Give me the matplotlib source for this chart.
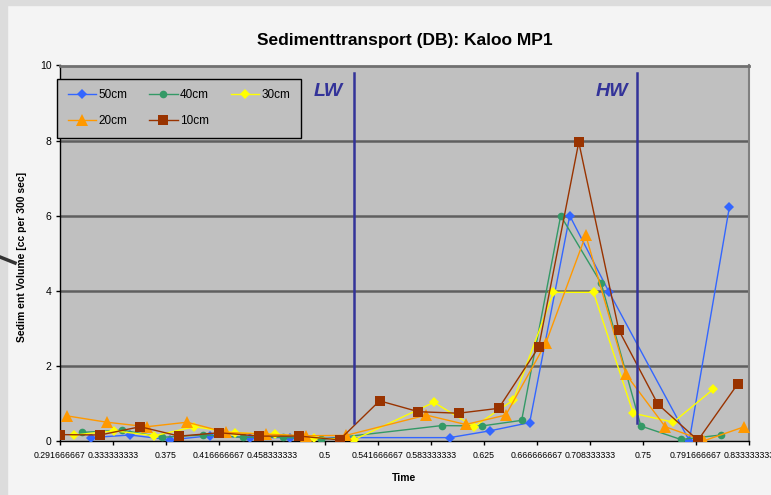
import matplotlib
matplotlib.use("Agg")
import matplotlib.pyplot as plt
from matplotlib.lines import Line2D
from matplotlib.patches import Rectangle

plt.rcParams['font.family'] = ['Liberation Sans', 'DejaVu Sans']

# time as fraction of a day, one list per depth
t_50 = [0.3161, 0.3468, 0.3783, 0.4098, 0.4413, 0.4728, 0.5980, 0.6295, 0.6609,
        0.6924, 0.7234, 0.7864, 0.8179]
v_50 = [0.09, 0.16, 0.03, 0.14, 0.09, 0.09, 0.09, 0.27, 0.49, 6.0, 3.96, 0.01, 6.23]

t_40 = [0.3092, 0.3407, 0.3722, 0.4037, 0.4352, 0.4667, 0.4972, 0.5916, 0.6232,
        0.6546, 0.6853, 0.7171, 0.7483, 0.7798, 0.8113]
v_40 = [0.23, 0.29, 0.10, 0.16, 0.10, 0.10, 0.04, 0.41, 0.40, 0.55, 6.0, 4.2,
        0.40, 0.04, 0.16]

t_30 = [0.3030, 0.3345, 0.3659, 0.3974, 0.4289, 0.4604, 0.4917, 0.5226, 0.5856,
        0.6171, 0.6481, 0.6796, 0.7111, 0.7423, 0.7738, 0.8053]
v_30 = [0.16, 0.27, 0.14, 0.38, 0.22, 0.18, 0.09, 0.03, 1.03, 0.38, 1.09, 3.96,
        3.96, 0.74, 0.50, 1.38]

t_20 = [0.2970, 0.3285, 0.3600, 0.3915, 0.4222, 0.4539, 0.4854, 0.5166, 0.5796,
        0.6106, 0.6421, 0.6735, 0.7050, 0.7365, 0.7675, 0.7982, 0.8297]
v_20 = [0.67, 0.50, 0.38, 0.50, 0.23, 0.18, 0.14, 0.15, 0.69, 0.44, 0.69, 2.6,
        5.48, 1.78, 0.38, 0.01, 0.38]

t_10 = [0.2917, 0.3232, 0.3547, 0.3854, 0.4169, 0.4484, 0.4799, 0.5114, 0.5429,
        0.5735, 0.6050, 0.6365, 0.6680, 0.6995, 0.7310, 0.7617, 0.7932, 0.8247]
v_10 = [0.17, 0.16, 0.38, 0.13, 0.22, 0.13, 0.13, 0.03, 1.07, 0.78, 0.74, 0.87,
        2.5, 7.96, 2.95, 0.98, 0.02, 1.53]

x_ticks = [7/24, 8/24, 9/24, 10/24, 11/24, 12/24, 13/24, 14/24, 15/24, 16/24,
           17/24, 18/24, 19/24, 20/24]
x_labels = ['0.291666667', '0.333333333', '0.375', '0.416666667', '0.458333333',
            '0.5', '0.541666667', '0.583333333', '0.625', '0.666666667',
            '0.708333333', '0.75', '0.791666667', '0.833333333']
y_ticks = [0, 2, 4, 6, 8, 10]

tide_x = [0.5225, 0.7454]
tide_labels = ['LW', 'HW']

W, H = 771, 495
fig = plt.figure(figsize=(W/100, H/100), dpi=100, facecolor='#f4f4f4')

# screenshot edges
fig.add_artist(Rectangle((0, 0), 7/W, 1, transform=fig.transFigure, color='#dcdcdc', zorder=0))
fig.add_artist(Rectangle((0, 1-5/H), 1, 5/H, transform=fig.transFigure, color='#dcdcdc', zorder=0))
fig.add_artist(Line2D([0, 15/W], [1-257/H, 1-263/H], transform=fig.transFigure,
                      color='#333333', lw=2.5))

ax = fig.add_axes([60/W, 1-441/H, (749-60)/W, (441-65.5)/H])
ax.set_facecolor('#c0c0c0')

for v in y_ticks[1:-1]:
    ax.axhline(v, color='#5f5f5f', lw=1.8, zorder=1)

series = [
    ('50cm', t_50, v_50, '#3366ff', 'D', 5.5),
    ('40cm', t_40, v_40, '#339966', 'o', 5.5),
    ('30cm', t_30, v_30, '#ffff00', 'D', 5),
    ('20cm', t_20, v_20, '#ff9900', '^', 8),
    ('10cm', t_10, v_10, '#993300', 's', 7.5),
]
handles = {}
for name, t, v, c, m, ms in series:
    h, = ax.plot(t, v, color=c, marker=m, markersize=ms, lw=1.0,
                 markeredgewidth=0, zorder=3, label=name)
    handles[name] = h

for x, lab in zip(tide_x, tide_labels):
    ax.plot([x, x], [0.48, 9.8], color='#333399', lw=1.8, zorder=4)
    ax.text(x - 0.02, 9.3, lab, color='#333399', fontsize=14, fontweight='bold',
            style='italic', ha='center', va='center')

ax.set_xlim(x_ticks[0], x_ticks[-1])
ax.set_ylim(0, 10)
ax.set_xticks(x_ticks)
ax.set_xticklabels(x_labels)
ax.set_yticks(y_ticks)
ax.tick_params(axis='both', length=3, width=1, direction='out', pad=3)
ax.tick_params(axis='x', labelsize=6.3, pad=4)
ax.tick_params(axis='y', labelsize=7.5)

for s in ['left', 'bottom']:
    ax.spines[s].set_color('black')
    ax.spines[s].set_linewidth(1)
ax.spines['top'].set_color('#707070')
ax.spines['top'].set_linewidth(2)
ax.spines['right'].set_color('#808080')
ax.spines['right'].set_linewidth(1.5)

order = ['50cm', '20cm', '40cm', '10cm', '30cm']
leg = fig.legend([handles[n] for n in order], order, ncol=3, mode='expand',
                 bbox_to_anchor=(57/W, 1-138/H, (301-57)/W, (138-72)/H),
                 loc='lower left', fontsize=8.5, frameon=True, fancybox=False,
                 edgecolor='black', facecolor='#c0c0c0', framealpha=1,
                 handlelength=2.4, handletextpad=0.2, borderpad=0.9,
                 labelspacing=1.2, borderaxespad=0)
leg.get_frame().set_linewidth(1)

fig.text((60+749)/2/W, 1-41/H, 'Sedimenttransport (DB): Kaloo MP1',
         ha='center', va='center', fontsize=12.5, fontweight='bold')
fig.text((60+749)/2/W, 1-478/H, 'Time', ha='center', va='center',
         fontsize=7.5, fontweight='bold')
fig.text(22/W, 1-257/H, 'Sedim ent Volume [cc per 300 sec]', rotation=90,
         ha='center', va='center', fontsize=7.5, fontweight='bold')

fig.savefig('out.png', dpi=100, facecolor=fig.get_facecolor())
